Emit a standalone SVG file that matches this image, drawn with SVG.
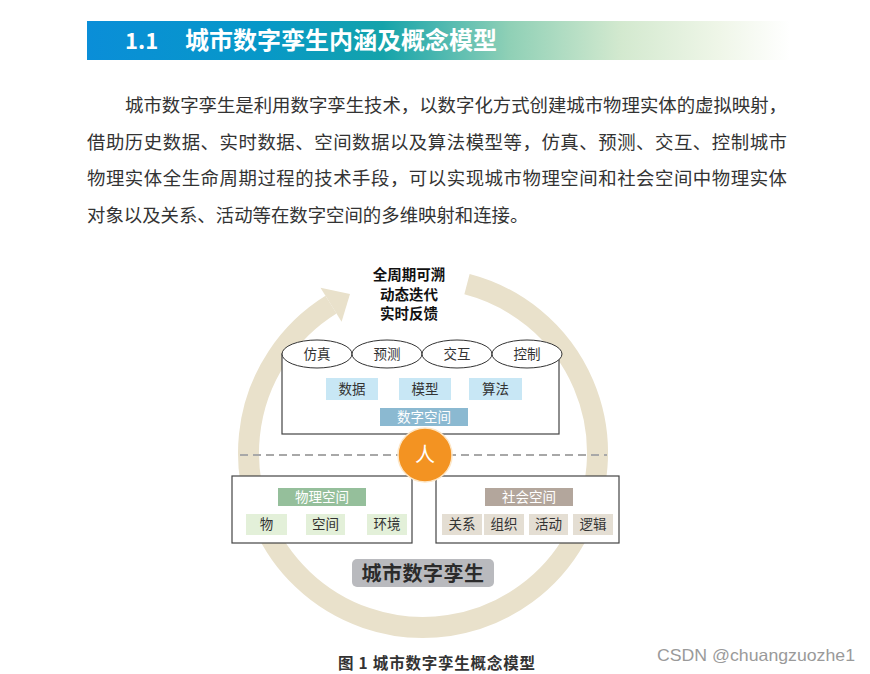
<svg xmlns="http://www.w3.org/2000/svg" width="870" height="674" viewBox="0 0 870 674">
<defs>
<linearGradient id="hdr" x1="0" y1="0" x2="1" y2="0">
<stop offset="0" stop-color="#0a8ed8"/>
<stop offset="0.25" stop-color="#0798c8"/>
<stop offset="0.42" stop-color="#14a3aa"/>
<stop offset="0.6" stop-color="#8fd0b6"/>
<stop offset="0.76" stop-color="#d3e9cf"/>
<stop offset="0.9" stop-color="#eff6e8"/>
<stop offset="1" stop-color="#ffffff"/>
</linearGradient>
<style>
.body{font-family:"Liberation Serif","Noto Sans CJK SC",serif;font-size:18.4px;fill:#333}
.cjk{font-family:"Noto Sans CJK SC",sans-serif}
.lbl{font-family:"Noto Sans CJK SC",sans-serif;font-size:13.5px;fill:#333;text-anchor:middle}
.wlbl{font-family:"Noto Sans CJK SC",sans-serif;font-size:13.5px;fill:#fff;text-anchor:middle}
.ell{fill:#fff;stroke:#333;stroke-width:1}
.box{fill:#fff;stroke:#444;stroke-width:1.2}
.blue{fill:#c8e7f5}
.green{fill:#e3f0d9}
.beige{fill:#e4ded3}
</style>
</defs>
<rect width="870" height="674" fill="#fff"/>

<g id="header">
<rect x="87" y="21" width="703" height="39" fill="url(#hdr)"/>
<text x="125" y="49" class="cjk" font-size="22" font-weight="bold" fill="#fff">1.1</text>
<text x="185" y="49" class="cjk" font-size="24" font-weight="bold" fill="#fff">城市数字孪生内涵及概念模型</text>
</g>

<g id="paragraph">
<text x="125" y="111.5" class="body" textLength="662" lengthAdjust="spacing">城市数字孪生是利用数字孪生技术，以数字化方式创建城市物理实体的虚拟映射，</text>
<text x="87" y="148.5" class="body" textLength="700" lengthAdjust="spacing">借助历史数据、实时数据、空间数据以及算法模型等，仿真、预测、交互、控制城市</text>
<text x="87" y="184.5" class="body" textLength="700" lengthAdjust="spacing">物理实体全生命周期过程的技术手段，可以实现城市物理空间和社会空间中物理实体</text>
<text x="87" y="221.5" class="body">对象以及关系、活动等在数字空间的多维映射和连接。</text>
</g>

<g id="connectors">
<path d="M 467.0 284.1 A 174.5 174.5 0 1 1 331.0 304.7" fill="none" stroke="#e9e1cb" stroke-width="21"/>
<polygon points="320.5,287.7 350,294 341.6,321.7" fill="#e9e1cb"/>
<line x1="240" y1="455" x2="607" y2="455" stroke="#a8a8a8" stroke-width="2" stroke-dasharray="8 5"/>
</g>

<g id="cycle-label">
<text x="409" y="280" class="cjk" font-size="14.5" font-weight="bold" fill="#111" text-anchor="middle">全周期可溯</text>
<text x="409" y="300" class="cjk" font-size="14.5" font-weight="bold" fill="#111" text-anchor="middle">动态迭代</text>
<text x="409" y="319" class="cjk" font-size="14.5" font-weight="bold" fill="#111" text-anchor="middle">实时反馈</text>
</g>

<g id="digital-space">
<rect x="282" y="354" width="277" height="80" class="box"/>
<g id="sim"><ellipse cx="317" cy="354" rx="35" ry="14" class="ell"/><text x="317" y="359" class="lbl">仿真</text></g>
<g id="pred"><ellipse cx="387" cy="354" rx="35" ry="14" class="ell"/><text x="387" y="359" class="lbl">预测</text></g>
<g id="inter"><ellipse cx="457" cy="354" rx="35" ry="14" class="ell"/><text x="457" y="359" class="lbl">交互</text></g>
<g id="ctrl"><ellipse cx="527" cy="354" rx="35" ry="14" class="ell"/><text x="527" y="359" class="lbl">控制</text></g>
<g id="data"><rect x="326" y="378" width="52" height="22" class="blue"/><text x="352" y="393.5" class="lbl">数据</text></g>
<g id="model"><rect x="399" y="378" width="52" height="22" class="blue"/><text x="425" y="393.5" class="lbl">模型</text></g>
<g id="algo"><rect x="469" y="378" width="53" height="22" class="blue"/><text x="495.5" y="393.5" class="lbl">算法</text></g>
<g id="ds-title"><rect x="380" y="408" width="88" height="18" fill="#8bb9d1"/><text x="424" y="422" class="wlbl">数字空间</text></g>
</g>

<g id="physical-space">
<rect x="232" y="476" width="180" height="67" class="box"/>
<g id="ps-title"><rect x="278" y="488" width="88" height="18" fill="#95bf9b"/><text x="322" y="502" class="wlbl">物理空间</text></g>
<g id="thing"><rect x="246" y="514" width="41" height="21" class="green"/><text x="266.5" y="529" class="lbl">物</text></g>
<g id="space"><rect x="306" y="514" width="39" height="21" class="green"/><text x="325.5" y="529" class="lbl">空间</text></g>
<g id="env"><rect x="367" y="514" width="40" height="21" class="green"/><text x="387" y="529" class="lbl">环境</text></g>
</g>

<g id="social-space">
<rect x="436" y="476" width="183" height="67" class="box"/>
<g id="ss-title"><rect x="485" y="488" width="88" height="18" fill="#b3a69c"/><text x="529" y="502" class="wlbl">社会空间</text></g>
<g id="rel"><rect x="442" y="514" width="40" height="21" class="beige"/><text x="462" y="529" class="lbl">关系</text></g>
<g id="org"><rect x="484" y="514" width="40" height="21" class="beige"/><text x="504" y="529" class="lbl">组织</text></g>
<g id="act"><rect x="529" y="514" width="39" height="21" class="beige"/><text x="548.5" y="529" class="lbl">活动</text></g>
<g id="logic"><rect x="573" y="514" width="40" height="21" class="beige"/><text x="593" y="529" class="lbl">逻辑</text></g>
</g>

<g id="person">
<circle cx="425" cy="455" r="27" fill="#f39322" stroke="#fde6c6" stroke-width="1.5"/>
<text x="425" y="462" class="cjk" font-size="20" fill="#fff" text-anchor="middle">人</text>
</g>

<g id="city-twin">
<rect x="352" y="559" width="142" height="28" rx="5" fill="#b9babe"/>
<text x="423" y="580.5" class="cjk" font-size="20" font-weight="bold" fill="#2b2b2b" text-anchor="middle" letter-spacing="0.5">城市数字孪生</text>
</g>

<g id="caption">
<text x="338" y="668.5" class="cjk" font-size="15.5" font-weight="bold" fill="#333" textLength="197" lengthAdjust="spacing">图 1 城市数字孪生概念模型</text>
<text x="657" y="661" font-family="Liberation Sans, sans-serif" font-size="16.5" fill="#9a9a9a" textLength="198" lengthAdjust="spacingAndGlyphs">CSDN @chuangzuozhe1</text>
</g>
</svg>
